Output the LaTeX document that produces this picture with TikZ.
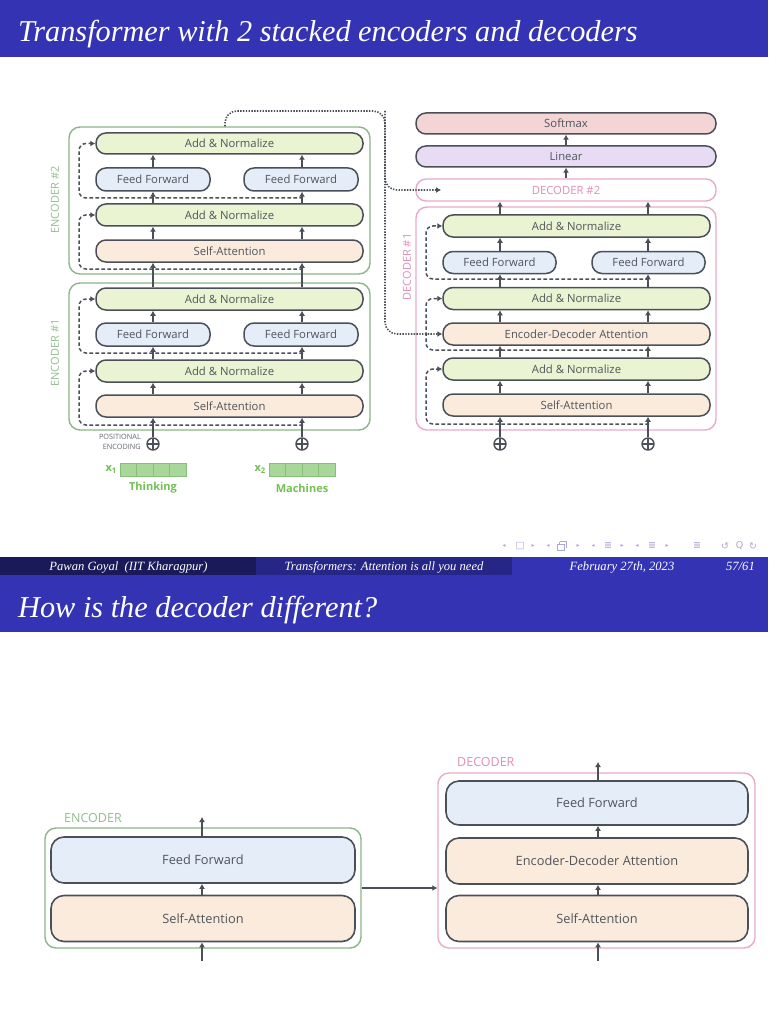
\documentclass[tikz,border=0pt]{standalone}
\usepackage{fontspec}
\setmainfont{Liberation Serif}
\newfontfamily\osans{Open Sans}
\newfontfamily\dejavu{DejaVu Sans}
\usetikzlibrary{arrows.meta,calc}
\definecolor{hdr}{HTML}{3333B3}
\definecolor{ftA}{HTML}{1A1A5A}
\definecolor{ftB}{HTML}{262686}
\definecolor{nav}{HTML}{A8A8DA}
\definecolor{boxc}{HTML}{4B5058}
\definecolor{txtc}{HTML}{50555C}
\definecolor{anf}{HTML}{EAF4D3}
\definecolor{fff}{HTML}{E5EDF9}
\definecolor{saf}{HTML}{FBEBDC}
\definecolor{encg}{HTML}{8DB58A}
\definecolor{encl}{HTML}{92BE8E}
\definecolor{decp}{HTML}{E9A9C8}
\definecolor{decl}{HTML}{E08EB6}
\definecolor{smx}{HTML}{F4D5D5}
\definecolor{lin}{HTML}{E7DCF3}
\definecolor{vecf}{HTML}{A9D69B}
\definecolor{vecd}{HTML}{86BF78}
\definecolor{wordg}{HTML}{72C053}
\definecolor{posg}{HTML}{62676E}
\tikzset{
  blk/.style={draw=boxc, line width=1.5pt, rounded corners=10pt, text=txtc,
    font=\osans\fontsize{11.3}{13}\selectfont, inner sep=0pt},
  bigblk/.style={draw=boxc, line width=1.6pt, rounded corners=13pt, text=txtc,
    font=\osans\fontsize{12.8}{15}\selectfont, inner sep=0pt, minimum height=46pt},
  encbox/.style={draw=encg, line width=1.4pt, rounded corners=11pt, inner sep=0pt},
  decbox/.style={draw=decp, line width=1.4pt, rounded corners=11pt, inner sep=0pt},
  arr/.style={draw=boxc, line width=1.4pt, -{Latex[length=5pt,width=6pt]}},
  dsh/.style={draw=boxc, line width=1.5pt, dash pattern=on 3.6pt off 2.4pt,
    rounded corners=7pt, -{Latex[length=5pt,width=6pt]}},
  dotl/.style={draw=boxc, line width=1.6pt, dash pattern=on 1.4pt off 1.4pt,
    rounded corners=12pt, -{Latex[length=5pt,width=6pt]}},
  plus/.style={circle, draw=boxc, line width=1.4pt, minimum size=12pt, inner sep=0pt,
    path picture={\draw[boxc, line width=1.4pt]
      (path picture bounding box.north) -- (path picture bounding box.south)
      (path picture bounding box.west) -- (path picture bounding box.east);}},
  lbl/.style={font=\osans\fontsize{11}{13}\selectfont, inner sep=0pt},
  cell/.style={draw=vecd, fill=vecf, line width=0.6pt, minimum width=16.5pt,
    minimum height=13pt, inner sep=0pt},
  word/.style={font=\osans\bfseries\fontsize{11}{13}\selectfont, text=wordg, inner sep=0pt},
  ttl/.style={anchor=base west, text=white, inner sep=0pt,
    font=\itshape\fontsize{30.3}{33}\selectfont},
  foot/.style={anchor=base, text=white, inner sep=0pt,
    font=\itshape\fontsize{12.6}{14}\selectfont},
  navs/.style={text=nav, inner sep=0pt, font=\dejavu\fontsize{9.5}{10}\selectfont},
  navt/.style={text=nav, inner sep=0pt, font=\dejavu\fontsize{6}{7}\selectfont}
}
\begin{document}
\begin{tikzpicture}[x=1pt,y=-1pt]
\useasboundingbox (0,0) rectangle (768,1024);
\fill[white] (0,0) rectangle (768,1024);
% ---------- slide 1 header ----------
\fill[hdr] (0,0) rectangle (768,57);
\node[ttl] (t1) at (18,42) {Transformer with 2 stacked encoders and decoders};
% columns
\coordinate (c1) at (153,0);
\coordinate (c2) at (302,0);
\coordinate (d1) at (500,0);
\coordinate (d2) at (648,0);
\coordinate (ex) at (79,0);
\coordinate (dx) at (426,0);
% ---------- encoder boxes ----------
\node[encbox, minimum width=301pt, minimum height=147pt] (e2box) at (219.5,200.5) {};
\node[encbox, minimum width=301pt, minimum height=147pt] (e1box) at (219.5,356.5) {};
\node[lbl, text=encl, rotate=90] (e2lab) at (55,200) {ENCODER \#2};
\node[lbl, text=encl, rotate=90] (e1lab) at (55,353) {ENCODER \#1};
% encoder 2
\node[blk, fill=anf, minimum width=267pt, minimum height=21pt] (e2an2) at (229.5,143.5) {Add \& Normalize};
\node[blk, fill=fff, minimum width=114pt, minimum height=23pt] (e2ff1) at (153,179.5) {Feed Forward};
\node[blk, fill=fff, minimum width=114pt, minimum height=23pt] (e2ff2) at (301,179.5) {Feed Forward};
\node[blk, fill=anf, minimum width=267pt, minimum height=22pt] (e2an1) at (229.5,215) {Add \& Normalize};
\node[blk, fill=saf, minimum width=267pt, minimum height=22pt] (e2sa) at (229.5,251) {Self-Attention};
% encoder 1
\node[blk, fill=anf, minimum width=267pt, minimum height=22pt] (e1an2) at (229.5,299) {Add \& Normalize};
\node[blk, fill=fff, minimum width=114pt, minimum height=23pt] (e1ff1) at (153,334.5) {Feed Forward};
\node[blk, fill=fff, minimum width=114pt, minimum height=23pt] (e1ff2) at (301,334.5) {Feed Forward};
\node[blk, fill=anf, minimum width=267pt, minimum height=22pt] (e1an1) at (229.5,371) {Add \& Normalize};
\node[blk, fill=saf, minimum width=267pt, minimum height=22pt] (e1sa) at (229.5,406) {Self-Attention};
% inputs
\node[plus] (pe1) at (153,444) {};
\node[plus] (pe2) at (302,444) {};
\node[anchor=east, align=right, text=posg, inner sep=0pt,
  font=\osans\fontsize{7.3}{9.5}\selectfont] (poslab) at (141,442) {POSITIONAL\\ENCODING};
\foreach \i in {0,1,2,3} {
  \node[cell] (va\i) at ({128.25+16.5*\i},469.5) {};
  \node[cell] (vb\i) at ({277.25+16.5*\i},469.5) {};
}
\node[word, anchor=east] (x1) at (117,469.5) {x\textsubscript{1}};
\node[word, anchor=east] (x2) at (266,469.5) {x\textsubscript{2}};
\node[word] (w1) at (153,488) {Thinking};
\node[word] (w2) at (302,488) {Machines};
% encoder arrows
\foreach \c in {c1,c2} {
  \draw[arr] (pe1.north -| \c) -- (e1sa.south -| \c);
  \draw[arr] (e1sa.north -| \c) -- (e1an1.south -| \c);
  \draw[arr] (e1an2.north -| \c) -- (e2sa.south -| \c);
  \draw[arr] (e2sa.north -| \c) -- (e2an1.south -| \c);
}
\draw[arr] (e1an1.north -| c1) -- (e1ff1.south);
\draw[arr] (e1an1.north -| c2) -- (e1ff2.south -| c2);
\draw[arr] (e1ff1.north) -- (e1an2.south -| e1ff1);
\draw[arr] (e1ff2.north -| c2) -- (e1an2.south -| c2);
\draw[arr] (e2an1.north -| c1) -- (e2ff1.south);
\draw[arr] (e2an1.north -| c2) -- (e2ff2.south -| c2);
\draw[arr] (e2ff1.north) -- (e2an2.south -| e2ff1);
\draw[arr] (e2ff2.north -| c2) -- (e2an2.south -| c2);
% encoder residuals
\coordinate (r1) at (303,425);
\coordinate (r2) at (303,353);
\coordinate (r3) at (303,269);
\coordinate (r4) at (303,198);
\draw[dsh] (r1) -- (r1 -| ex) -- (ex |- e1an1.west) -- (e1an1.west);
\draw[dsh] (r2) -- (r2 -| ex) -- (ex |- e1an2.west) -- (e1an2.west);
\draw[dsh] (r3) -- (r3 -| ex) -- (ex |- e2an1.west) -- (e2an1.west);
\draw[dsh] (r4) -- (r4 -| ex) -- (ex |- e2an2.west) -- (e2an2.west);
% ---------- decoder ----------
\node[blk, fill=smx, minimum width=300pt, minimum height=21pt] (smx) at (566,123.5) {Softmax};
\node[blk, fill=lin, minimum width=300pt, minimum height=21pt] (lin) at (566,156.5) {Linear};
\node[blk, draw=decp, line width=1.4pt, fill=white, text=decl, minimum width=300pt, minimum height=22pt] (dec2) at (566,190) {DECODER \#2};
\node[decbox, minimum width=300pt, minimum height=223pt] (d1box) at (566,318.5) {};
\node[lbl, text=decl, rotate=90] (d1lab) at (407,267) {DECODER \#1};
\node[blk, fill=anf, minimum width=267pt, minimum height=22pt] (dan3) at (576.5,226) {Add \& Normalize};
\node[blk, fill=fff, minimum width=113pt, minimum height=22pt] (dff1) at (499.5,262.5) {Feed Forward};
\node[blk, fill=fff, minimum width=113pt, minimum height=22pt] (dff2) at (648.5,262.5) {Feed Forward};
\node[blk, fill=anf, minimum width=267pt, minimum height=22pt] (dan2) at (576.5,298.5) {Add \& Normalize};
\node[blk, fill=saf, minimum width=267pt, minimum height=22pt] (deda) at (576.5,334) {Encoder-Decoder Attention};
\node[blk, fill=anf, minimum width=267pt, minimum height=22pt] (dan1) at (576.5,369) {Add \& Normalize};
\node[blk, fill=saf, minimum width=267pt, minimum height=22pt] (dsa) at (576.5,405) {Self-Attention};
\node[plus] (pd1) at (500,444) {};
\node[plus] (pd2) at (648,444) {};
\foreach \c in {d1,d2} {
  \draw[arr] (pd1.north -| \c) -- (dsa.south -| \c);
  \draw[arr] (dsa.north -| \c) -- (dan1.south -| \c);
  \draw[arr] (dan1.north -| \c) -- (deda.south -| \c);
  \draw[arr] (deda.north -| \c) -- (dan2.south -| \c);
  \draw[arr] (dan3.north -| \c) -- (dec2.south -| \c);
}
\draw[arr] (dan2.north -| d1) -- (dff1.south -| d1);
\draw[arr] (dan2.north -| d2) -- (dff2.south -| d2);
\draw[arr] (dff1.north -| d1) -- (dan3.south -| d1);
\draw[arr] (dff2.north -| d2) -- (dan3.south -| d2);
\draw[arr] (dec2.north) -- (lin.south);
\draw[arr] (lin.north) -- (smx.south);
% decoder residuals
\coordinate (q1) at (649,424);
\coordinate (q2) at (649,350);
\coordinate (q3) at (649,279);
\draw[dsh] (q1) -- (q1 -| dx) -- (dx |- dan1.west) -- (dan1.west);
\draw[dsh] (q2) -- (q2 -| dx) -- (dx |- dan2.west) -- (dan2.west);
\draw[dsh] (q3) -- (q3 -| dx) -- (dx |- dan3.west) -- (dan3.west);
% encoder -> decoder dotted link
\coordinate (dotx) at (225,0);
\coordinate (dtr) at (385,111);
\coordinate (dec2in) at (441,190);
\draw[dotl] (e2box.north -| dotx) -- (dotx |- dtr) -- (dtr) -- (dtr |- dec2in) -- (dec2in);
\draw[dotl] (dtr) -- (dtr |- deda.west) -- (deda.west);
% ---------- navigation symbols ----------
\foreach \x/\nm in {504/a,548/b,593/c,637/d} {\node[navt] (nl\nm) at (\x,546) {◂};}
\foreach \x/\nm in {533/a,578/b,622/c,667/d} {\node[navt] (nr\nm) at (\x,546) {▸};}
\node[navs] (nbox) at (520,546) {□};
\draw[nav, line width=0.8pt] (557.5,544) rectangle (564.5,550.5);
\draw[nav, line width=0.8pt] (559.5,541.5) -- (566.5,541.5) -- (566.5,548) (559.5,541.5) -- (559.5,544);
\node[navs] (ne1) at (608,546) {≣};
\node[navs] (ne2) at (652,546) {≣};
\node[navs] (ne3) at (697,546) {≣};
\node[navs] (nu) at (725,546) {↺};
\node[navs] (nq) at (739.5,546) {Q};
\node[navs] (nd) at (753,546) {↻};
% ---------- footer of slide 1 ----------
\fill[ftA] (0,557) rectangle (256,575);
\fill[ftB] (256,557) rectangle (512,575);
\fill[hdr] (512,557) rectangle (768,575);
\node[foot] (f1) at (128.5,570) {Pawan Goyal\ \ (IIT Kharagpur)};
\node[foot] (f2) at (384,570) {Transformers: Attention is all you need};
\node[foot] (f3) at (622,570) {February 27th, 2023};
\node[foot, anchor=base east] (f4) at (755,570) {57/61};
% ---------- slide 2 ----------
\fill[hdr] (0,575) rectangle (768,632);
\node[ttl] (t2) at (18,617) {How is the decoder different?};
\coordinate (s1) at (202,0);
\coordinate (s2) at (598,0);
\node[encbox, minimum width=316pt, minimum height=120pt] (sencbox) at (203,888) {};
\node[lbl, text=encl, anchor=west, font=\osans\fontsize{12.5}{14}\selectfont] (senclab) at (64,818) {ENCODER};
\node[bigblk, fill=fff, minimum width=304pt] (sff) at (203,860) {Feed Forward};
\node[bigblk, fill=saf, minimum width=304pt] (ssa) at (203,918.5) {Self-Attention};
\coordinate (sin1) at (202,961);
\coordinate (sout1) at (202,817);
\draw[arr] (sff.north -| s1) -- (sout1);
\draw[arr] (ssa.north -| s1) -- (sff.south -| s1);
\draw[arr] (sin1) -- (ssa.south -| s1);
\node[decbox, minimum width=317pt, minimum height=175pt] (sdecbox) at (596.5,860.5) {};
\node[lbl, text=decl, anchor=west, font=\osans\fontsize{12.5}{14}\selectfont] (sdeclab) at (457,762) {DECODER};
\node[bigblk, fill=fff, minimum width=302pt, minimum height=44pt] (sdff) at (597,803) {Feed Forward};
\node[bigblk, fill=saf, minimum width=302pt] (sdeda) at (597,861) {Encoder-Decoder Attention};
\node[bigblk, fill=saf, minimum width=302pt] (sdsa) at (597,918.5) {Self-Attention};
\coordinate (sin2) at (598,961);
\coordinate (sout2) at (598,762);
\draw[arr] (sdff.north -| s2) -- (sout2);
\draw[arr] (sdeda.north -| s2) -- (sdff.south -| s2);
\draw[arr] (sdsa.north -| s2) -- (sdeda.south -| s2);
\draw[arr] (sin2) -- (sdsa.south -| s2);
\draw[arr] (sencbox.east) -- (sencbox.east -| sdecbox.west);
\end{tikzpicture}
\end{document}
